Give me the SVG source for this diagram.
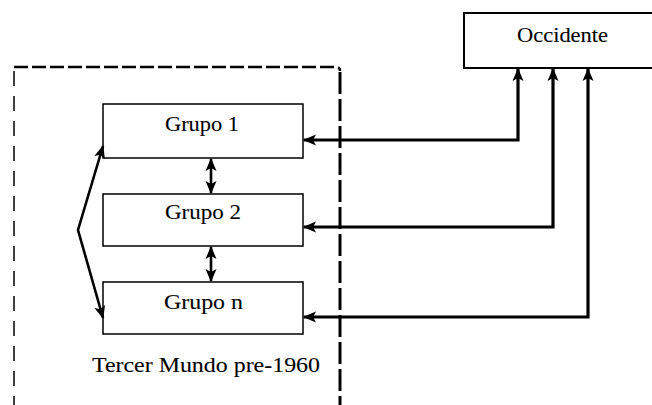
<svg xmlns="http://www.w3.org/2000/svg" width="652" height="405" viewBox="0 0 652 405">
  <style>
    .box { fill: #ffffff; stroke: #000000; stroke-width: 1.5; }
    .box-outer { fill: #ffffff; stroke: #000000; stroke-width: 2; }
    .label { font-family: "Liberation Serif", "Times New Roman", "DejaVu Serif", serif; font-size: 22px; fill: #000000; stroke: #000000; stroke-width: 0.1; }
    .link { fill: none; stroke: #000000; stroke-width: 3.2; stroke-linejoin: miter; }
    .link-thin { fill: none; stroke: #000000; stroke-width: 2.6; }
    .frame { fill: none; stroke: #000000; }
  </style>
  <defs>
    <marker id="arrow" viewBox="0 0 13 12" refX="12" refY="6" markerWidth="13" markerHeight="12" markerUnits="userSpaceOnUse" orient="auto-start-reverse">
      <path d="M0,0.5 L13,6 L0,11.5 L3,6 Z" fill="#000000"/>
    </marker>
  </defs>

  <!-- dashed frame around the Third World region -->
  <g id="tercer-mundo">
    <path class="frame" d="M14,67 H336 Q340,67 340,71" stroke-width="2.6" stroke-dasharray="14,4"/>
    <path class="frame" d="M340,72 V405" stroke-width="3" stroke-dasharray="22,5"/>
    <path class="frame" d="M14,71 V405" stroke-width="1.5" stroke-dasharray="15,10"/>
    <text class="label" x="92" y="372" textLength="228" lengthAdjust="spacingAndGlyphs">Tercer Mundo pre-1960</text>
  </g>

  <g id="occidente">
    <rect class="box-outer" x="464" y="13" width="200" height="55"/>
    <text class="label" x="517" y="42" textLength="91" lengthAdjust="spacingAndGlyphs">Occidente</text>
  </g>

  <g id="grupo-1">
    <rect class="box" x="103" y="104" width="200" height="54"/>
    <text class="label" x="165" y="131" textLength="74" lengthAdjust="spacingAndGlyphs">Grupo 1</text>
  </g>

  <g id="grupo-2">
    <rect class="box" x="103" y="194" width="200" height="52"/>
    <text class="label" x="165" y="219" textLength="76" lengthAdjust="spacingAndGlyphs">Grupo 2</text>
  </g>

  <g id="grupo-n">
    <rect class="box" x="103" y="282" width="200" height="52"/>
    <text class="label" x="164" y="309" textLength="79" lengthAdjust="spacingAndGlyphs">Grupo n</text>
  </g>

  <g id="connectors">
    <path class="link" d="M518,69 V140 H304" marker-start="url(#arrow)" marker-end="url(#arrow)"/>
    <path class="link" d="M553,69 V227 H304" marker-start="url(#arrow)" marker-end="url(#arrow)"/>
    <path class="link" d="M588,69 V317 H304" marker-start="url(#arrow)" marker-end="url(#arrow)"/>
    <path class="link-thin" d="M211,159 V193" marker-start="url(#arrow)" marker-end="url(#arrow)"/>
    <path class="link-thin" d="M211,247 V281" marker-start="url(#arrow)" marker-end="url(#arrow)"/>
    <path class="link-thin" d="M103,146 L78,230 L103,318" marker-start="url(#arrow)" marker-end="url(#arrow)"/>
  </g>
</svg>
